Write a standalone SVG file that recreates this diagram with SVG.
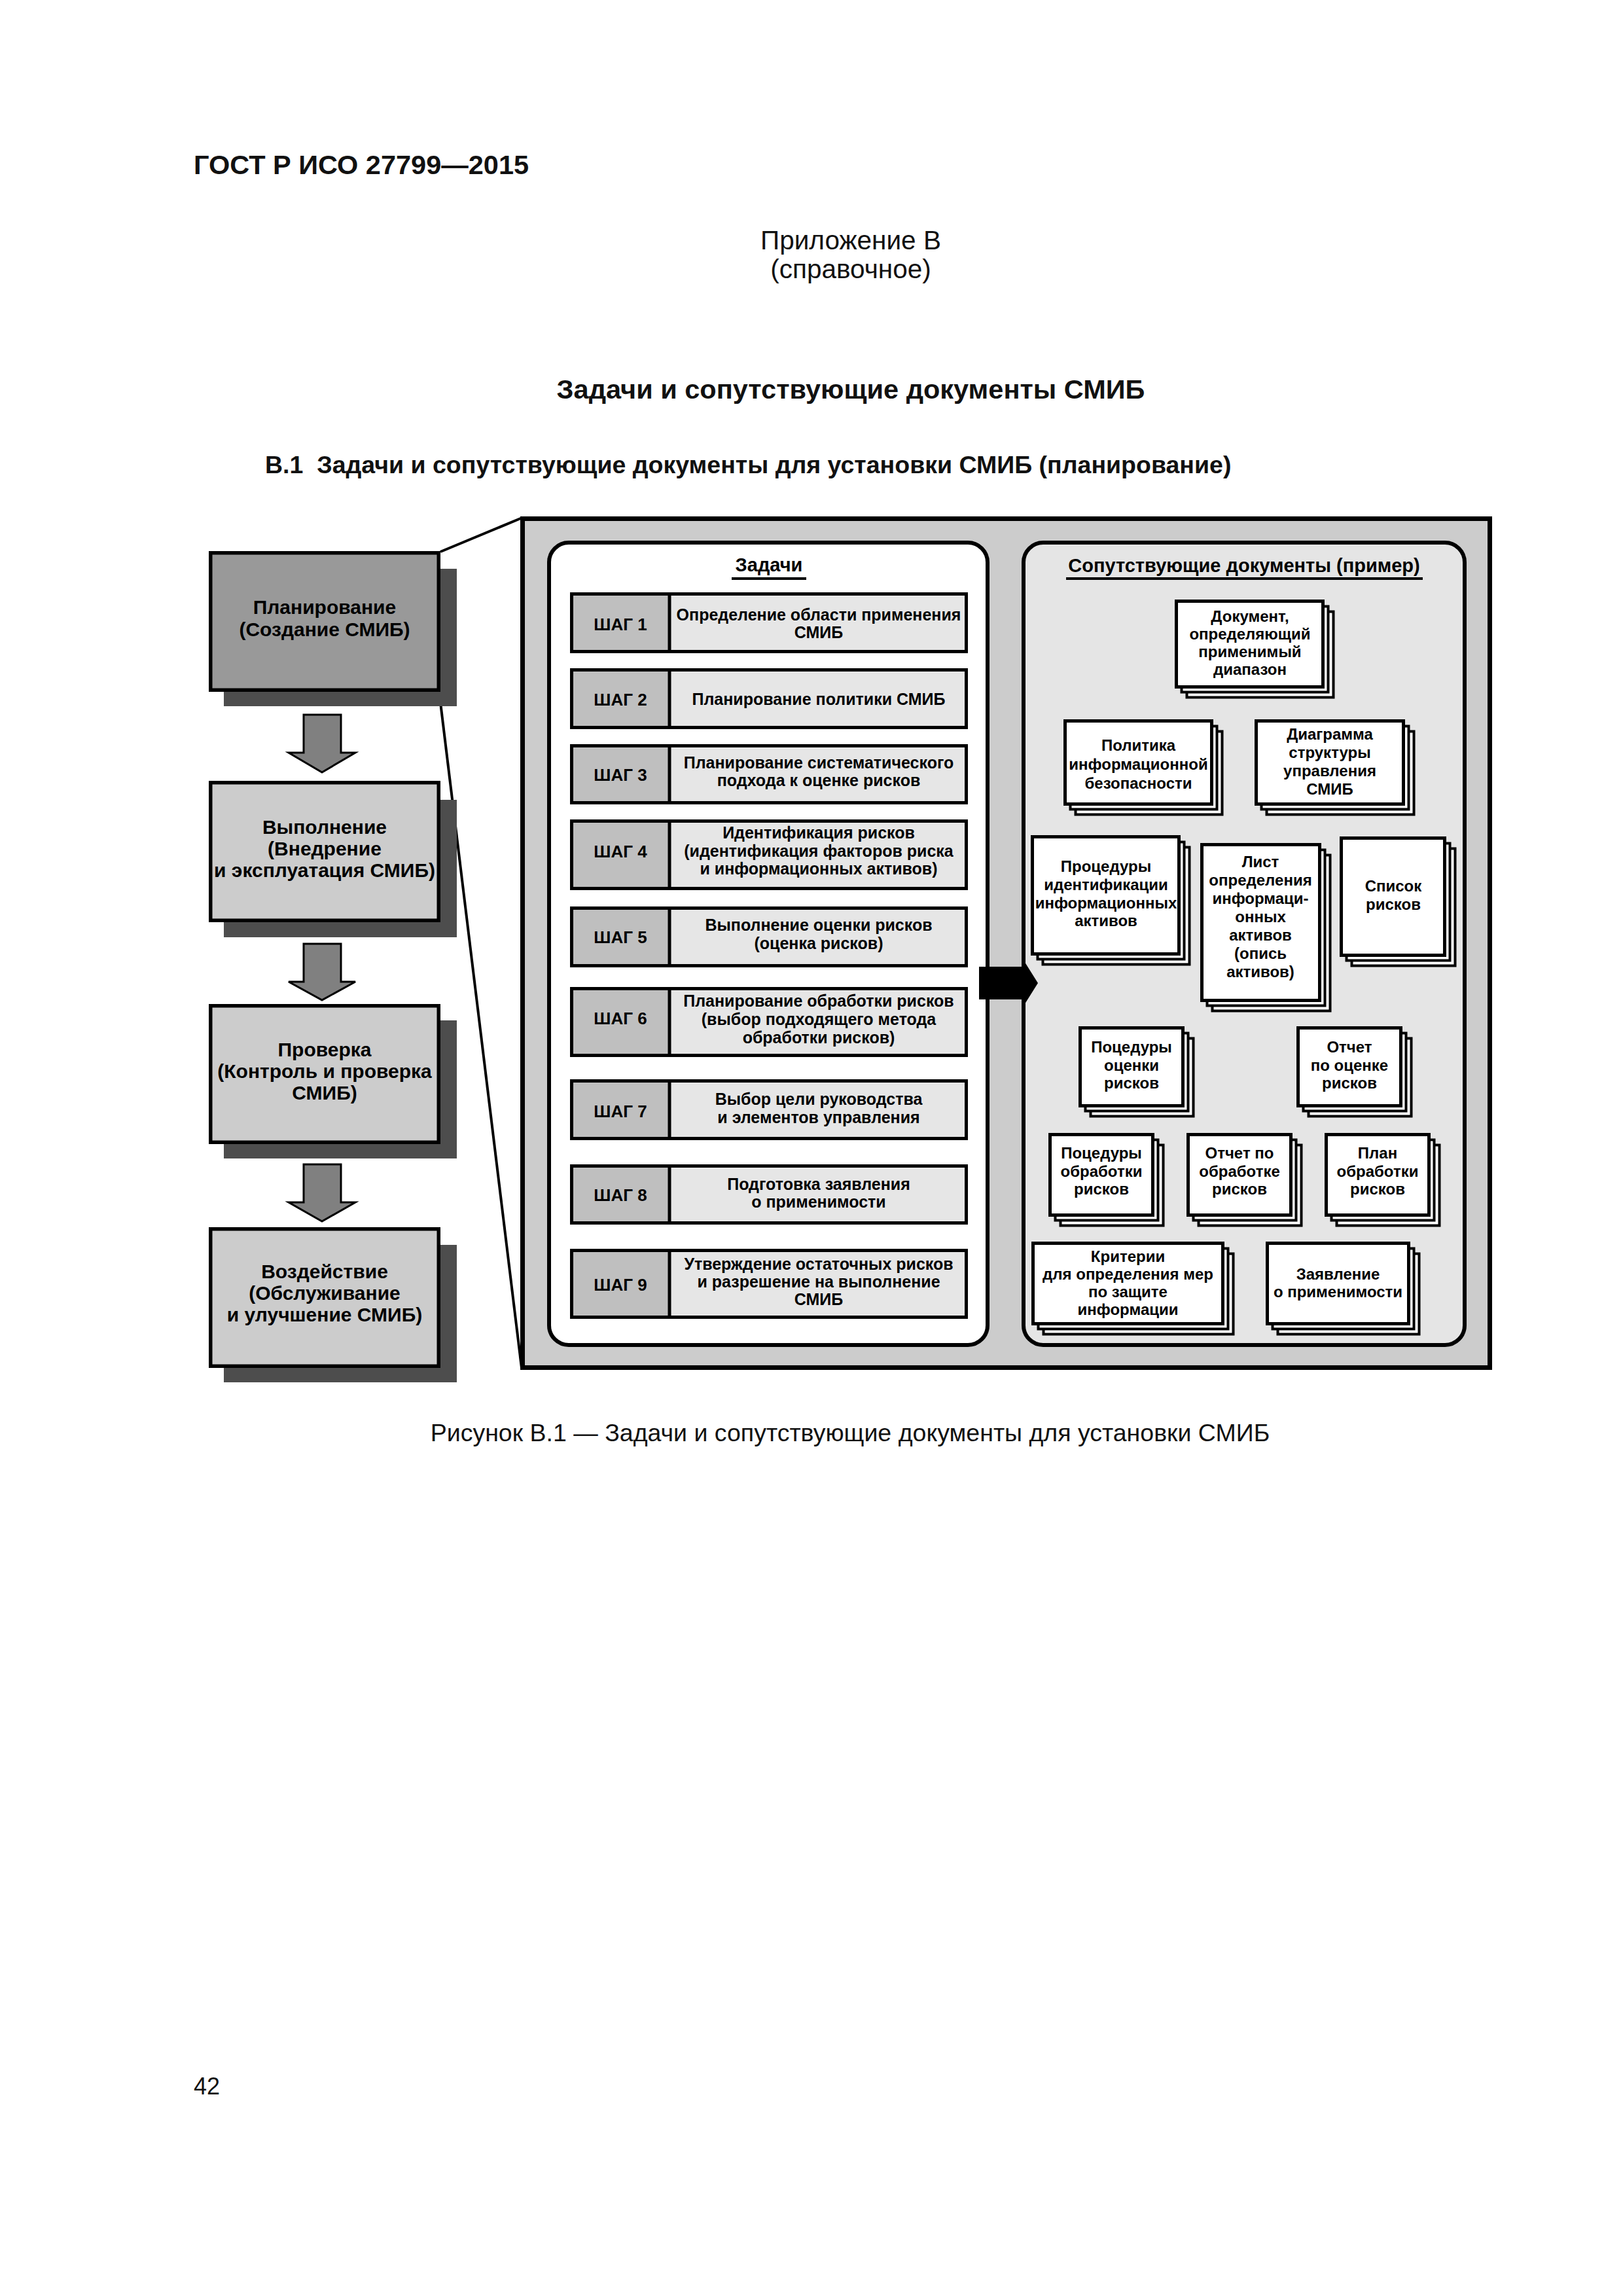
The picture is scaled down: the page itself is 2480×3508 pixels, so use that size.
<svg xmlns="http://www.w3.org/2000/svg" width="2480" height="3508" viewBox="0 0 2480 3508">
<style>
text{font-family:"Liberation Sans",Arial,sans-serif;fill:#111}
.hb{font-size:41.5px;font-weight:bold}
.hr{font-size:40.5px}
.sb{font-size:37.5px;font-weight:bold}
.cap{font-size:37.5px}
.c{text-anchor:middle}
.pd{font-size:30px;font-weight:bold;text-anchor:middle;fill:#000}
.st{font-size:25px;font-weight:bold;text-anchor:middle;fill:#000}
.sl{font-size:26px;font-weight:bold;text-anchor:middle;fill:#000}
.dt{font-size:24px;font-weight:bold;text-anchor:middle;fill:#000}
.tt{font-size:29px;font-weight:bold;text-anchor:middle;fill:#000}
.box{stroke:#000;stroke-width:5.5}
.shadow{fill:#4d4d4d}
.arr{fill:#808080;stroke:#000;stroke-width:3;stroke-linejoin:miter}
.stepR{fill:#e6e6e6;stroke:#000;stroke-width:5}
.stepL{fill:#bfbfbf;stroke:#000;stroke-width:5}
.pf{fill:#fff;stroke:#000;stroke-width:5}
.pb{fill:#fff;stroke:#000;stroke-width:4}
</style>

<g id="page-text">
<text class="hb" x="296" y="266">ГОСТ Р ИСО 27799—2015</text>
<text class="hr c" x="1300" y="381">Приложение В</text>
<text class="hr c" x="1300" y="425">(справочное)</text>
<text class="hb c" x="1300" y="609">Задачи и сопутствующие документы СМИБ</text>
<text class="sb" x="405" y="723" xml:space="preserve">В.1  Задачи и сопутствующие документы для установки СМИБ (планирование)</text>
<text class="cap c" x="1299" y="2202" fill="#222">Рисунок В.1 — Задачи и сопутствующие документы для установки СМИБ</text>
<text x="296" y="3200" style="font-size:36px">42</text>
</g>

<g id="connectors">
<line x1="673" y1="843" x2="798" y2="791" stroke="#000" stroke-width="4"/>
<line x1="671" y1="1057" x2="797" y2="2090" stroke="#000" stroke-width="4"/>
<polygon class="arr" points="464,1092 521,1092 521,1150 543,1150 492,1180 441,1150 464,1150"/>
<polygon class="arr" points="464,1442 521,1442 521,1500 543,1500 492,1528 441,1500 464,1500"/>
<polygon class="arr" points="464,1779 521,1779 521,1837 543,1837 492,1866 441,1837 464,1837"/>
</g>

<g id="pdca-plan">
<rect class="shadow" x="342" y="869" width="356" height="210"/>
<rect class="box" x="321.75" y="844.75" width="348.5" height="209.5" fill="#999"/>
<text class="pd" x="496" y="938">Планирование</text>
<text class="pd" x="496" y="972">(Создание СМИБ)</text>
</g>
<g id="pdca-do">
<rect class="shadow" x="342" y="1222" width="356" height="210"/>
<rect class="box" x="321.75" y="1195.75" width="348.5" height="210.5" fill="#ccc"/>
<text class="pd" x="496" y="1274">Выполнение</text>
<text class="pd" x="496" y="1307">(Внедрение</text>
<text class="pd" x="496" y="1340">и эксплуатация СМИБ)</text>
</g>
<g id="pdca-check">
<rect class="shadow" x="342" y="1559" width="356" height="211"/>
<rect class="box" x="321.75" y="1536.75" width="348.5" height="208.5" fill="#ccc"/>
<text class="pd" x="496" y="1614">Проверка</text>
<text class="pd" x="496" y="1647">(Контроль и проверка</text>
<text class="pd" x="496" y="1680">СМИБ)</text>
</g>
<g id="pdca-act">
<rect class="shadow" x="342" y="1902" width="356" height="210"/>
<rect class="box" x="321.75" y="1877.75" width="348.5" height="209.5" fill="#ccc"/>
<text class="pd" x="496" y="1953">Воздействие</text>
<text class="pd" x="496" y="1986">(Обслуживание</text>
<text class="pd" x="496" y="2019">и улучшение СМИБ)</text>
</g>

<g id="detail-panel">
<rect x="798.5" y="792.5" width="1478" height="1297" fill="#ccc" stroke="#000" stroke-width="7"/>
</g>

<g id="tasks">
<rect x="839" y="829" width="670" height="1226" rx="30" fill="#fff" stroke="#000" stroke-width="6"/>
<text class="tt" x="1175" y="873">Задачи</text>
<rect x="1118" y="882" width="114" height="4" fill="#000"/>
</g>

<g id="step1">
<rect class="stepR" x="873.5" y="907.5" width="603" height="88"/>
<rect class="stepL" x="873.5" y="907.5" width="149.5" height="88"/>
<text class="sl" x="948" y="963">ШАГ 1</text>
<text class="st" x="1251" y="948">Определение области применения</text>
<text class="st" x="1251" y="975">СМИБ</text>
</g>
<g id="step2">
<rect class="stepR" x="873.5" y="1023.5" width="603" height="88"/>
<rect class="stepL" x="873.5" y="1023.5" width="149.5" height="88"/>
<text class="sl" x="948" y="1078">ШАГ 2</text>
<text class="st" x="1251" y="1077">Планирование политики СМИБ</text>
</g>
<g id="step3">
<rect class="stepR" x="873.5" y="1139.5" width="603" height="87"/>
<rect class="stepL" x="873.5" y="1139.5" width="149.5" height="87"/>
<text class="sl" x="948" y="1193">ШАГ 3</text>
<text class="st" x="1251" y="1174">Планирование систематического</text>
<text class="st" x="1251" y="1201">подхода к оценке рисков</text>
</g>
<g id="step4">
<rect class="stepR" x="873.5" y="1254.5" width="603" height="103"/>
<rect class="stepL" x="873.5" y="1254.5" width="149.5" height="103"/>
<text class="sl" x="948" y="1310">ШАГ 4</text>
<text class="st" x="1251" y="1281">Идентификация рисков</text>
<text class="st" x="1251" y="1309">(идентификация факторов риска</text>
<text class="st" x="1251" y="1336">и информационных активов)</text>
</g>
<g id="step5">
<rect class="stepR" x="873.5" y="1387.5" width="603" height="88"/>
<rect class="stepL" x="873.5" y="1387.5" width="149.5" height="88"/>
<text class="sl" x="948" y="1441">ШАГ 5</text>
<text class="st" x="1251" y="1422">Выполнение оценки рисков</text>
<text class="st" x="1251" y="1450">(оценка рисков)</text>
</g>
<g id="step6">
<rect class="stepR" x="873.5" y="1510.5" width="603" height="102"/>
<rect class="stepL" x="873.5" y="1510.5" width="149.5" height="102"/>
<text class="sl" x="948" y="1565">ШАГ 6</text>
<text class="st" x="1251" y="1538">Планирование обработки рисков</text>
<text class="st" x="1251" y="1566">(выбор подходящего метода</text>
<text class="st" x="1251" y="1594">обработки рисков)</text>
</g>
<g id="step7">
<rect class="stepR" x="873.5" y="1651.5" width="603" height="88"/>
<rect class="stepL" x="873.5" y="1651.5" width="149.5" height="88"/>
<text class="sl" x="948" y="1707">ШАГ 7</text>
<text class="st" x="1251" y="1688">Выбор цели руководства</text>
<text class="st" x="1251" y="1716">и элементов управления</text>
</g>
<g id="step8">
<rect class="stepR" x="873.5" y="1781.5" width="603" height="87"/>
<rect class="stepL" x="873.5" y="1781.5" width="149.5" height="87"/>
<text class="sl" x="948" y="1835">ШАГ 8</text>
<text class="st" x="1251" y="1818">Подготовка заявления</text>
<text class="st" x="1251" y="1845">о применимости</text>
</g>
<g id="step9">
<rect class="stepR" x="873.5" y="1910.5" width="603" height="102"/>
<rect class="stepL" x="873.5" y="1910.5" width="149.5" height="102"/>
<text class="sl" x="948" y="1972">ШАГ 9</text>
<text class="st" x="1251" y="1940">Утверждение остаточных рисков</text>
<text class="st" x="1251" y="1967">и разрешение на выполнение</text>
<text class="st" x="1251" y="1994">СМИБ</text>
</g>

<g id="documents">
<rect x="1564" y="829" width="674" height="1226" rx="30" fill="#e5e5e5" stroke="#000" stroke-width="6"/>
<text class="tt" x="1901" y="874">Сопутствующие документы (пример)</text>
<rect x="1629" y="882" width="545" height="4" fill="#000"/>
</g>

<g id="connector-arrow">
<polygon points="1496,1477 1564,1477 1564,1467 1586,1502 1564,1537 1564,1527 1496,1527" fill="#000"/>
</g>

<g id="doc1">
<rect class="pb" x="1813.5" y="934.5" width="224" height="131"/>
<rect class="pb" x="1805.5" y="926.5" width="224" height="131"/>
<rect class="pf" x="1797.5" y="918.5" width="224" height="131"/>
<text class="dt" x="1910" y="950">Документ,</text>
<text class="dt" x="1910" y="977">определяющий</text>
<text class="dt" x="1910" y="1004">применимый</text>
<text class="dt" x="1910" y="1031">диапазон</text>
</g>
<g id="doc2">
<rect class="pb" x="1643.5" y="1117.5" width="224" height="127"/>
<rect class="pb" x="1635.5" y="1109.5" width="224" height="127"/>
<rect class="pf" x="1627.5" y="1101.5" width="224" height="127"/>
<text class="dt" x="1739.5" y="1147">Политика</text>
<text class="dt" x="1739.5" y="1176">информационной</text>
<text class="dt" x="1739.5" y="1205">безопасности</text>
</g>
<g id="doc3">
<rect class="pb" x="1935.5" y="1117.5" width="225" height="127"/>
<rect class="pb" x="1927.5" y="1109.5" width="225" height="127"/>
<rect class="pf" x="1919.5" y="1101.5" width="225" height="127"/>
<text class="dt" x="2032" y="1130">Диаграмма</text>
<text class="dt" x="2032" y="1158">структуры</text>
<text class="dt" x="2032" y="1186">управления</text>
<text class="dt" x="2032" y="1214">СМИБ</text>
</g>
<g id="doc4">
<rect class="pb" x="1593.5" y="1294.5" width="224" height="179"/>
<rect class="pb" x="1585.5" y="1286.5" width="224" height="179"/>
<rect class="pf" x="1577.5" y="1278.5" width="224" height="179"/>
<text class="dt" x="1690" y="1332">Процедуры</text>
<text class="dt" x="1690" y="1360">идентификации</text>
<text class="dt" x="1690" y="1388">информационных</text>
<text class="dt" x="1690" y="1415">активов</text>
</g>
<g id="doc5">
<rect class="pb" x="1852.5" y="1306.5" width="180" height="238"/>
<rect class="pb" x="1844.5" y="1298.5" width="180" height="238"/>
<rect class="pf" x="1836.5" y="1290.5" width="180" height="238"/>
<text class="dt" x="1926" y="1325">Лист</text>
<text class="dt" x="1926" y="1353">определения</text>
<text class="dt" x="1926" y="1381">информаци-</text>
<text class="dt" x="1926" y="1409">онных</text>
<text class="dt" x="1926" y="1437">активов</text>
<text class="dt" x="1926" y="1465">(опись</text>
<text class="dt" x="1926" y="1493">активов)</text>
</g>
<g id="doc6">
<rect class="pb" x="2065.5" y="1296.5" width="158" height="179"/>
<rect class="pb" x="2057.5" y="1288.5" width="158" height="179"/>
<rect class="pf" x="2049.5" y="1280.5" width="158" height="179"/>
<text class="dt" x="2129" y="1362">Список</text>
<text class="dt" x="2129" y="1390">рисков</text>
</g>
<g id="doc7">
<rect class="pb" x="1666.5" y="1586.5" width="157" height="119"/>
<rect class="pb" x="1658.5" y="1578.5" width="157" height="119"/>
<rect class="pf" x="1650.5" y="1570.5" width="157" height="119"/>
<text class="dt" x="1729" y="1608">Поцедуры</text>
<text class="dt" x="1729" y="1636">оценки</text>
<text class="dt" x="1729" y="1663">рисков</text>
</g>
<g id="doc8">
<rect class="pb" x="1999.5" y="1586.5" width="157" height="119"/>
<rect class="pb" x="1991.5" y="1578.5" width="157" height="119"/>
<rect class="pf" x="1983.5" y="1570.5" width="157" height="119"/>
<text class="dt" x="2062" y="1608">Отчет</text>
<text class="dt" x="2062" y="1636">по оценке</text>
<text class="dt" x="2062" y="1663">рисков</text>
</g>
<g id="doc9">
<rect class="pb" x="1620.5" y="1749.5" width="157" height="123"/>
<rect class="pb" x="1612.5" y="1741.5" width="157" height="123"/>
<rect class="pf" x="1604.5" y="1733.5" width="157" height="123"/>
<text class="dt" x="1683" y="1770">Поцедуры</text>
<text class="dt" x="1683" y="1798">обработки</text>
<text class="dt" x="1683" y="1825">рисков</text>
</g>
<g id="doc10">
<rect class="pb" x="1831.5" y="1749.5" width="157" height="123"/>
<rect class="pb" x="1823.5" y="1741.5" width="157" height="123"/>
<rect class="pf" x="1815.5" y="1733.5" width="157" height="123"/>
<text class="dt" x="1894" y="1770">Отчет по</text>
<text class="dt" x="1894" y="1798">обработке</text>
<text class="dt" x="1894" y="1825">рисков</text>
</g>
<g id="doc11">
<rect class="pb" x="2042.5" y="1749.5" width="157" height="123"/>
<rect class="pb" x="2034.5" y="1741.5" width="157" height="123"/>
<rect class="pf" x="2026.5" y="1733.5" width="157" height="123"/>
<text class="dt" x="2105" y="1770">План</text>
<text class="dt" x="2105" y="1798">обработки</text>
<text class="dt" x="2105" y="1825">рисков</text>
</g>
<g id="doc12">
<rect class="pb" x="1594.5" y="1915.5" width="290" height="123"/>
<rect class="pb" x="1586.5" y="1907.5" width="290" height="123"/>
<rect class="pf" x="1578.5" y="1899.5" width="290" height="123"/>
<text class="dt" x="1723.5" y="1928">Критерии</text>
<text class="dt" x="1723.5" y="1955">для определения мер</text>
<text class="dt" x="1723.5" y="1982">по защите</text>
<text class="dt" x="1723.5" y="2009">информации</text>
</g>
<g id="doc13">
<rect class="pb" x="1952.5" y="1915.5" width="216" height="123"/>
<rect class="pb" x="1944.5" y="1907.5" width="216" height="123"/>
<rect class="pf" x="1936.5" y="1899.5" width="216" height="123"/>
<text class="dt" x="2044.5" y="1955">Заявление</text>
<text class="dt" x="2044.5" y="1982">о применимости</text>
</g>
</svg>
